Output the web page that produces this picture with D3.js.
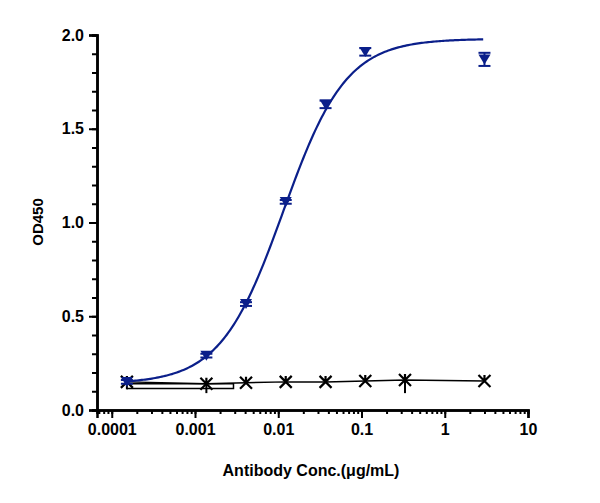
<!DOCTYPE html><html><head><script src="https://cdn.jsdelivr.net/npm/d3@7"></script>
<style>body{margin:0;background:#fff}text{font-family:"Liberation Sans",Arial,sans-serif;font-weight:bold}</style></head><body>
<svg id="c" width="600" height="503"></svg>
<script>
const blueX=[0.000152,0.00137,0.0041,0.0123,0.037,0.111,3];
const blueY=[0.15,0.29,0.565,1.11,1.63,1.91,1.87];
const blueErr=[0.01,0.01,0.01,0.01,0.02,0.02,0.035];
const blackX=[0.000152,0.00137,0.0041,0.0123,0.037,0.111,0.333,3];
const blackY=[0.15,0.14,0.145,0.15,0.15,0.155,0.16,0.155];
const blackErrLo=[0.04,0.05,0.005,0.005,0.005,0.005,0.07,0.005];
const blackErrHi=[0.005,0.005,0.005,0.005,0.005,0.005,0.03,0.005];
const fitParams=[0.14,1.98,0.0115,1.15]; // bottom, top, EC50, hill
const xTicks=[0.0001,0.001,0.01,0.1,1,10];
const xTickLabels=["0.0001","0.001","0.01","0.1","1","10"];
const yTicks=[0,0.5,1.0,1.5,2.0];

const svg=d3.select("#c");
const x=d3.scaleLog().domain([0.0000665,10]).range([97,528]);
const y=d3.scaleLinear().domain([0,2]).range([410,35]);
const navy="#0b1f8a";

const ya=svg.append("g").attr("transform","translate(97,0)")
 .call(d3.axisLeft(y).tickValues(yTicks).tickFormat(d3.format(".1f")).tickSize(8));
svg.append("g").attr("transform","translate(97,0)")
 .call(d3.axisLeft(y).tickValues(d3.range(0,2.01,0.1)).tickFormat("").tickSize(5));
const minor=[];for(let e=-5;e<1;e++)for(let k=1;k<10;k++){const v=k*Math.pow(10,e);if(v>=0.0000665&&v<=10)minor.push(v);}
svg.append("g").attr("transform","translate(0,410)")
 .call(d3.axisBottom(x).tickValues(minor).tickFormat("").tickSize(4));
svg.append("g").attr("transform","translate(0,410)")
 .call(d3.axisBottom(x).tickValues(xTicks).tickFormat((d,i)=>xTickLabels[i]).tickSize(8).tickPadding(6));
svg.selectAll(".domain").attr("stroke","#000").attr("stroke-width",2.5);
svg.selectAll(".tick line").attr("stroke","#000").attr("stroke-width",2);
svg.selectAll(".tick text").attr("font-size",16).attr("fill","#000");
ya.selectAll(".tick text").attr("dx",-2);

svg.append("text").attr("transform","translate(43,222) rotate(-90)").attr("text-anchor","middle").attr("font-size",15).text("OD450");
svg.append("text").attr("x",311).attr("y",476).attr("text-anchor","middle").attr("font-size",16).text("Antibody Conc.(μg/mL)");

svg.append("path").datum(blackX.map((d,i)=>[d,blackY[i]])).attr("fill","none").attr("stroke","#000").attr("stroke-width",1.5)
 .attr("d",d3.line().x(d=>x(d[0])).y(d=>y(d[1])));
svg.append("path").attr("fill","none").attr("stroke","#000").attr("stroke-width",1.5)
 .attr("d",d3.line()([[x(blackX[0]),y(0.115)],[x(0.0029),y(0.115)],[x(0.0029),y(0.14)],[x(blackX[0]),y(0.14)]]));
blackX.forEach((d,i)=>{
 const cx=x(d),cy=y(blackY[i]);
 svg.append("line").attr("x1",cx).attr("x2",cx).attr("y1",y(blackY[i]+blackErrHi[i])).attr("y2",y(blackY[i]-blackErrLo[i])).attr("stroke","#000").attr("stroke-width",2);
 const s=6;
 svg.append("path").attr("d",`M${cx-s},${cy-s}L${cx+s},${cy+s}M${cx-s},${cy+s}L${cx+s},${cy-s}M${cx},${cy-s}L${cx},${cy}`).attr("stroke","#000").attr("stroke-width",2.2);
});

const [b,t,ec,h]=fitParams;
const xs=d3.range(Math.log10(blueX[0]),Math.log10(3)+0.001,0.02).map(v=>Math.pow(10,v));
svg.append("path").datum(xs).attr("fill","none").attr("stroke",navy).attr("stroke-width",2.2)
 .attr("d",d3.line().x(d=>x(d)).y(d=>y(b+(t-b)/(1+Math.pow(ec/d,h)))));
blueX.forEach((d,i)=>{
 const cx=x(d),cy=y(blueY[i]),e=blueErr[i];
 svg.append("line").attr("x1",cx).attr("x2",cx).attr("y1",y(blueY[i]+e)).attr("y2",y(blueY[i]-e)).attr("stroke",navy).attr("stroke-width",2);
 [blueY[i]+e,blueY[i]-e].forEach(v=>svg.append("line").attr("x1",cx-6).attr("x2",cx+6).attr("y1",y(v)).attr("y2",y(v)).attr("stroke",navy).attr("stroke-width",2));
 svg.append("path").attr("d",`M${cx-6},${cy-5}L${cx+6},${cy-5}L${cx},${cy+5}Z`).attr("fill",navy);
});
</script></body></html>
